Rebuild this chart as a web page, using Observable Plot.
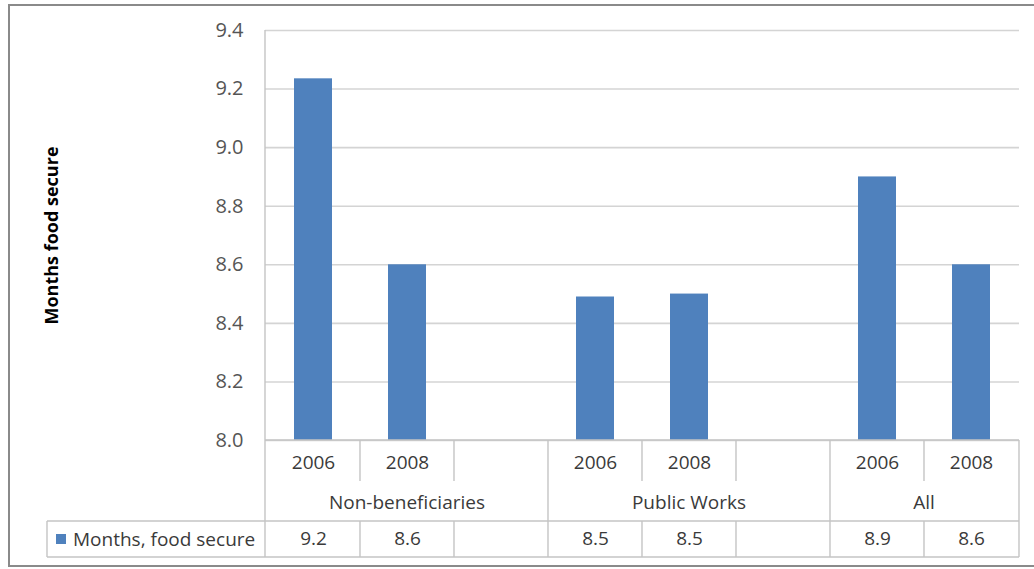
<!DOCTYPE html>
<html><head><meta charset="utf-8">
<script src="https://cdn.jsdelivr.net/npm/d3@7"></script>
<script src="https://cdn.jsdelivr.net/npm/@observablehq/plot@0.6"></script>
<style>
body{margin:0;background:#fff;}
#chart{width:1034px;height:569px;}
</style></head><body><div id="chart"></div>
<script>
// ---- data ----
const slots = ["NB-2006","NB-2008","NB-gap","PW-2006","PW-2008","PW-gap","All-2006","All-2008"];
const slotYears = ["2006","2008","","2006","2008","","2006","2008"];
const slotGroups = ["Non-beneficiaries","Non-beneficiaries","Non-beneficiaries","Public Works","Public Works","Public Works","All","All"];
const monthsFoodSecure = [9.235, 8.6, null, 8.49, 8.5, null, 8.9, 8.6];
const tableValues = ["9.2","8.6","","8.5","8.5","","8.9","8.6"];
const groups = ["Non-beneficiaries","Public Works","All"];
const yTicks = [8.0, 8.2, 8.4, 8.6, 8.8, 9.0, 9.2, 9.4];
const seriesName = "Months, food secure";
const yTitle = "Months food secure";

const barColor = "#4f81bd";
const lineColor = "#c4c4c4";
const textColor = "#3a3a3a";
const FONT = "'Open Sans', sans-serif";

const rows = slots.map((s, i) => ({slot: s, year: slotYears[i], group: slotGroups[i], value: monthsFoodSecure[i], label: tableValues[i]}));
const bars = rows.filter(d => d.value != null);

// data table under the chart (lines, group labels, legend key), positioned from the x scale
function tableMark(index, scales, values, dim) {
  const x = scales.x;
  const step = x(slots[1]) - x(slots[0]);
  const left = dim.marginLeft, right = dim.width - dim.marginRight;
  const top = dim.height - dim.marginBottom;
  const yearBottom = top + 41, dataTop = top + 81, dataBottom = top + 117;
  const legendLeft = 47;
  const g = d3.create("svg:g");
  const lines = g.append("g").attr("stroke", lineColor).attr("stroke-width", 1.4).attr("fill", "none");
  const L = (x1, y1, x2, y2) => lines.append("line").attr("x1", x1).attr("y1", y1).attr("x2", x2).attr("y2", y2);
  // horizontal
  L(left, top, right, top);
  L(legendLeft, dataTop, right, dataTop);
  L(legendLeft, dataBottom, right, dataBottom);
  // verticals
  L(left, dim.marginTop, left, dataBottom);
  L(legendLeft, dataTop, legendLeft, dataBottom);
  L(right, top, right, dataBottom);
  slots.forEach((s, i) => {
    if (i === 0) return;
    const xx = x(s);
    if (slotGroups[i] !== slotGroups[i - 1]) L(xx, top, xx, dataBottom);
    else { L(xx, top, xx, yearBottom); L(xx, dataTop, xx, dataBottom); }
  });
  // group labels
  groups.forEach(gname => {
    const idx = slots.map((s, i) => i).filter(i => slotGroups[i] === gname);
    const cx = (x(slots[idx[0]]) + x(slots[idx[idx.length - 1]]) + step) / 2;
    g.append("text").attr("x", cx).attr("y", top + 62).attr("dy", "0.35em")
      .attr("text-anchor", "middle").attr("fill", textColor).text(gname);
  });
  // legend key
  const midY = (dataTop + dataBottom) / 2;
  g.append("rect").attr("x", legendLeft + 9).attr("y", midY - 5)
    .attr("width", 10).attr("height", 10).attr("fill", barColor);
  g.append("text").attr("x", legendLeft + 26).attr("y", midY).attr("dy", "0.35em")
    .attr("text-anchor", "start").attr("fill", textColor).text(seriesName);
  // outer chart frame
  const fr = g.append("g").attr("stroke", "#8a8a8a").attr("stroke-width", 2).attr("fill", "none");
  fr.append("path").attr("d", `M${dim.width},5H9V566H${dim.width}`);
  return g.node();
}

const chart = Plot.plot({
  width: 1034,
  height: 569,
  marginLeft: 265,
  marginRight: 15,
  marginTop: 30,
  marginBottom: 129,
  style: {fontFamily: FONT, fontSize: "19px", color: textColor, background: "#fff"},
  x: {type: "band", domain: slots, padding: 0, axis: null},
  y: {domain: [8, 9.4], axis: null},
  marks: [
    Plot.gridY(yTicks, {stroke: "#d4d4d4", strokeOpacity: 1, strokeWidth: 1.6}),
    Plot.barY(bars, {x: "slot", y1: 8, y2: "value", fill: barColor, insetLeft: 28, insetRight: 28}),
    Plot.axisY(yTicks, {tickSize: 0, tickPadding: 22, tickFormat: d => d.toFixed(1), fill: "#555", fontSize: 20, label: null}),
    Plot.text([yTitle], {frameAnchor: "left", dx: -213, rotate: -90, textAnchor: "middle", fontWeight: "bold", fontSize: 18, fill: "#000"}),
    Plot.text(rows, {x: "slot", text: "year", frameAnchor: "bottom", dy: 22, lineAnchor: "middle", fill: textColor}),
    Plot.text(rows, {x: "slot", text: "label", frameAnchor: "bottom", dy: 98, lineAnchor: "middle", fill: textColor}),
    tableMark
  ]
});
document.getElementById("chart").append(chart);
</script></body></html>
